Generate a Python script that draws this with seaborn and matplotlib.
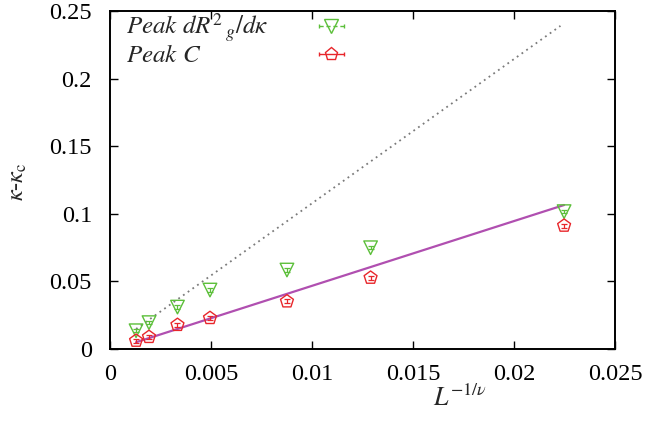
import numpy as np
import pandas as pd
import matplotlib
matplotlib.use("Agg")
import matplotlib.pyplot as plt
import seaborn as sns
from matplotlib.lines import Line2D
from matplotlib.collections import LineCollection
from matplotlib.container import ErrorbarContainer
from matplotlib.ticker import FixedLocator, FixedFormatter

# ---- data ----
x_vals = [0.00129, 0.00193, 0.00334, 0.00495, 0.00876, 0.0129, 0.02248]
peak_drg = [0.0135, 0.0195, 0.031, 0.0436, 0.0584, 0.0749, 0.1016]
peak_drg_err = [0.0012, 0.0012, 0.0012, 0.0012, 0.0012, 0.0012, 0.0012]
peak_c = [0.0061, 0.0089, 0.0178, 0.0229, 0.0352, 0.0527, 0.0912]
peak_c_err = [0.0015, 0.0015, 0.0015, 0.0015, 0.0015, 0.0015, 0.0015]

fit_x = [0.00129, 0.02248]
fit_c = [0.0050, 0.1065]
guide_x = [0.00129, 0.0223]
guide_y = [0.0148, 0.239]

x_ticks = [0, 0.005, 0.01, 0.015, 0.02, 0.025]
x_tick_labels = ["0", "0.005", "0.01", "0.015", "0.02", "0.025"]
y_ticks = [0, 0.05, 0.1, 0.15, 0.2, 0.25]
y_tick_labels = ["0", "0.05", "0.1", "0.15", "0.2", "0.25"]

label_drg = r"$Peak\ dR^{2}\,{}_{g}/d\kappa$"
label_c = r"$Peak\ C$"

GREEN = "#5cbf3a"
RED = "#e8262b"
PURPLE = "#b04fb0"
GRAY = "#7a7a7a"

sns.set_theme(style="ticks")
plt.rcParams["font.family"] = ["Liberation Serif", "DejaVu Serif"]
plt.rcParams["mathtext.fontset"] = "stix"
FS = 17.5

fig = plt.figure(figsize=(6.48, 4.24), dpi=100)
ax = fig.add_axes([110 / 648, 75 / 424, 505 / 648, 338 / 424])

# guide (dotted) and fit line
sns.lineplot(x=guide_x, y=guide_y, ax=ax, color=GRAY, lw=1.3,
             linestyle=(0, (1, 2.2)), sort=False, errorbar=None)
sns.lineplot(x=fit_x, y=fit_c, ax=ax, color=PURPLE, lw=1.6,
             sort=False, errorbar=None)

# error bars
ax.errorbar(x_vals, peak_drg, yerr=peak_drg_err, fmt="none", ecolor=GREEN,
            elinewidth=0.9, capsize=2.5, capthick=0.9)
ax.errorbar(x_vals, peak_c, yerr=peak_c_err, fmt="none", ecolor=RED,
            elinewidth=0.9, capsize=2.5, capthick=0.9)

# hollow markers
sns.scatterplot(x=x_vals, y=peak_drg, ax=ax, marker="v", s=95, color=GREEN,
                facecolors="none", edgecolor=GREEN, linewidth=1.0, zorder=3)
sns.scatterplot(x=x_vals, y=peak_c, ax=ax, marker="p", s=95, color=RED,
                facecolors="none", edgecolor=RED, linewidth=1.0, zorder=3)

ax.set_xlim(0, 0.025)
ax.set_ylim(0, 0.25)
ax.xaxis.set_major_locator(FixedLocator(x_ticks))
ax.xaxis.set_major_formatter(FixedFormatter(x_tick_labels))
ax.yaxis.set_major_locator(FixedLocator(y_ticks))
ax.yaxis.set_major_formatter(FixedFormatter(y_tick_labels))
ax.tick_params(axis="both", which="major", direction="in", length=6, width=1,
               top=True, right=True, labelsize=FS, colors="black")
ax.tick_params(axis="x", pad=11)
ax.tick_params(axis="y", pad=13)
for sp in ax.spines.values():
    sp.set_color("black")
    sp.set_linewidth(1.4)
    sp.set_visible(True)

ax.set_xlabel(r"$L^{\mathrm{-1/}\nu}$", fontsize=FS + 1)
ax.xaxis.set_label_coords(0.693, -0.105)
ax.set_ylabel(r"$\kappa$-$\kappa_{\mathrm{c}}$", fontsize=FS)
ax.yaxis.set_label_coords(-0.16, 0.494)


def proxy(marker, color, ls):
    pl = Line2D([], [], marker=marker, color=color, mfc="none", mec=color,
                ms=9.5, ls="none", mew=1.0)
    cap = Line2D([], [], color=color, lw=1, ms=3.5, mew=1)
    bar = LineCollection([], colors=color, linewidths=1, linestyles=ls)
    return ErrorbarContainer((pl, (cap,), (bar,)), has_xerr=True, has_yerr=False)


handles = [proxy("v", GREEN, (0, (3, 2))), proxy("p", RED, "-")]
leg = ax.legend(handles, [label_drg, label_c], loc="upper left",
                bbox_to_anchor=(0.032, 1.0), frameon=False, markerfirst=False,
                fontsize=FS + 0.5, handlelength=1.0, handletextpad=2.0,
                labelspacing=0.05, borderpad=0, borderaxespad=0)

# left-align the label texts (gnuplot-style key): pad shorter rows
fig.canvas.draw()
renderer = fig.canvas.get_renderer()
texts = leg.get_texts()
widths = [t.get_window_extent(renderer).width for t in texts]
wmax = max(widths)
px_per_pt = fig.dpi / 72.0
column = leg._legend_handle_box.get_children()[0]
for row, w in zip(column.get_children(), widths):
    row.sep = row.sep + (wmax - w) / px_per_pt

fig.savefig("out.png", dpi=100)
